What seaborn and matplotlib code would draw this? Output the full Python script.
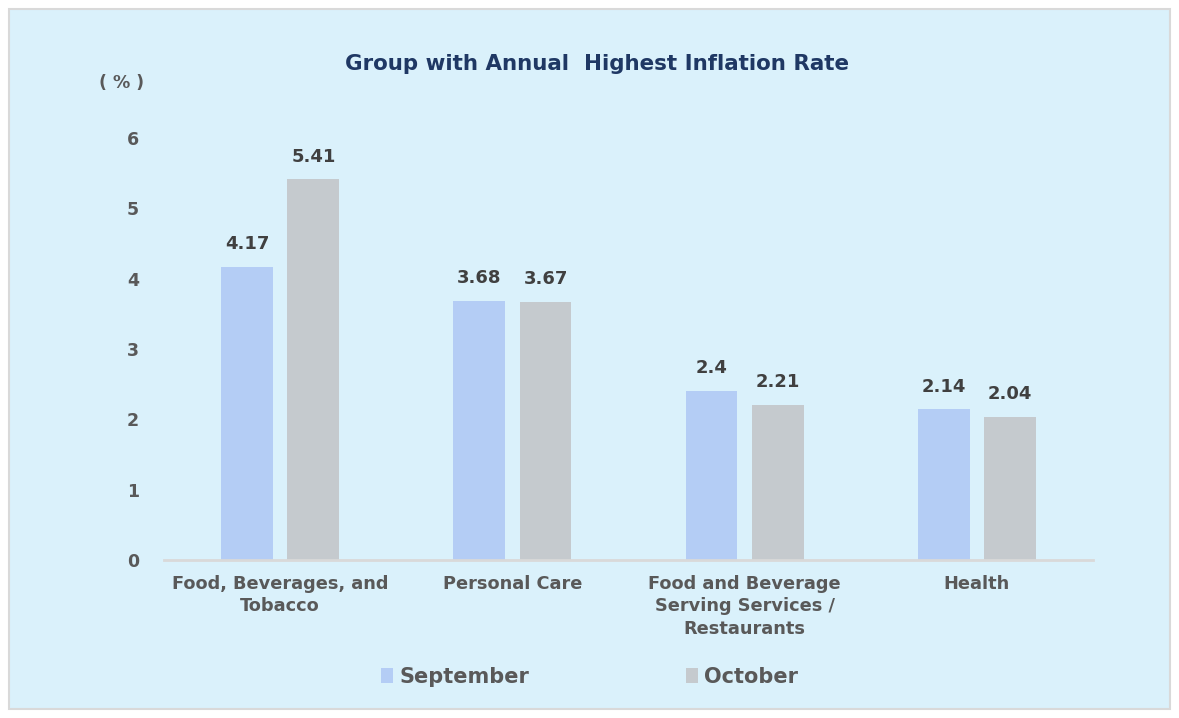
import matplotlib
matplotlib.use("Agg")
import matplotlib.pyplot as plt
import seaborn as sns
import pandas as pd
from matplotlib.patches import Rectangle

categories = ["Food, Beverages, and\nTobacco", "Personal Care",
              "Food and Beverage\nServing Services /\nRestaurants", "Health"]
september = [4.17, 3.68, 2.4, 2.14]
october = [5.41, 3.67, 2.21, 2.04]
series = ["September", "October"]
label_text = {"September": ["4.17", "3.68", "2.4", "2.14"],
              "October": ["5.41", "3.67", "2.21", "2.04"]}

df = pd.DataFrame({
    "category": categories * 2,
    "value": september + october,
    "month": [series[0]] * 4 + [series[1]] * 4,
})

sns.set_theme(style="white")
plt.rcParams['font.family'] = ['DejaVu Sans']

W, H = 1179, 718
fig = plt.figure(figsize=(W / 100, H / 100), dpi=100, facecolor="white")
fig.patches.append(Rectangle((9 / W, 9 / H), (1170 - 9) / W, (709 - 9) / H,
                             transform=fig.transFigure, facecolor="#DAF1FB",
                             edgecolor="#D9D9D9", linewidth=1.5, zorder=-10))

ax = fig.add_axes([164 / W, 1 - 560 / H, (1093 - 164) / W, (560 - 138) / H])
ax.set_facecolor("none")
ax.set_zorder(5)

palette = {"September": "#B4CDF5", "October": "#C5CACE"}
sns.barplot(data=df, x="category", y="value", hue="month", palette=palette,
            width=0.572, gap=0.22, ax=ax, saturation=1, legend=True,
            linewidth=0, edgecolor="none")

ax.set_ylim(0, 6)
ax.set_yticks(range(0, 7))
ax.set_xlim(-0.5, 3.5)
for s in ["top", "right", "left"]:
    ax.spines[s].set_visible(False)
ax.spines["bottom"].set_color("#D9D9D9")
ax.spines["bottom"].set_linewidth(2)
ax.tick_params(axis="both", length=0, colors="#595959")
ax.tick_params(axis="y", pad=18)
ax.tick_params(axis="x", pad=11)
for t in ax.get_yticklabels():
    t.set_fontweight("bold"); t.set_fontsize(12.5); t.set_color("#595959")
ax.set_xticks(range(4))
ax.set_xticklabels(categories, fontsize=12.8, fontweight="bold", color="#595959",
                   multialignment="center", linespacing=1.3)
ax.set_xlabel(""); ax.set_ylabel("")

for cont, name in zip(ax.containers, series):
    ax.bar_label(cont, labels=label_text[name], padding=10, fontsize=13,
                 fontweight="bold", color="#404040")

fig.text(597 / W, 1 - 64 / H, "Group with Annual  Highest Inflation Rate",
         ha="center", va="center", fontsize=15.4, fontweight="bold", color="#1F3864")
fig.text(122 / W, 1 - 83 / H, "( % )", ha="center", va="center", fontsize=12.5,
         fontweight="bold", color="#595959")

handles, labels = ax.get_legend_handles_labels()
ax.legend_.remove()
for h in handles:
    h.set_edgecolor("none")
leg = fig.legend(handles, labels, loc="center", bbox_to_anchor=(0.5, 1 - 677 / H),
                 ncol=2, frameon=False, handlelength=0.6, handleheight=0.7,
                 handletextpad=0.3, columnspacing=7.5,
                 prop={"weight": "bold", "size": 15})
for t in leg.get_texts():
    t.set_color("#595959")

fig.savefig("out.png", dpi=100, facecolor="white")
